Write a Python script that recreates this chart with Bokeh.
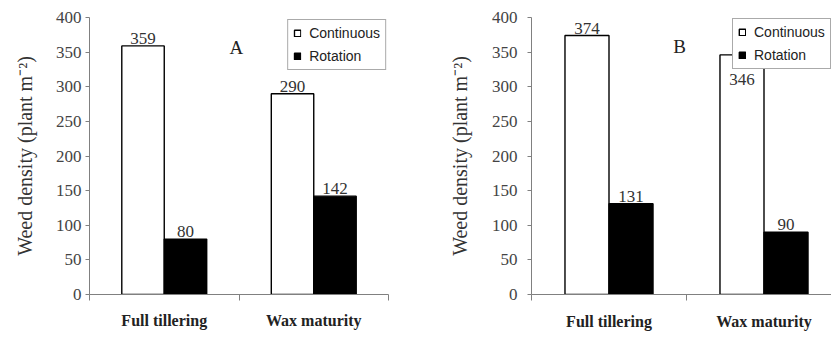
from bokeh.plotting import figure
from bokeh.models import Range1d, FixedTicker, ColumnDataSource, Label
from bokeh.layouts import row
from bokeh.embed import file_html
from bokeh.resources import INLINE
from bokeh.core.properties import value

# ---- data ----
categories = ["Full tillering", "Wax maturity"]
series_names = ["Continuous", "Rotation"]
a_continuous = [359, 290]
a_rotation = [80, 142]
b_continuous = [374, 346]
b_rotation = [131, 90]
y_ticks = [0, 50, 100, 150, 200, 250, 300, 350, 400]
y_label = "Weed density (plant m\u207b\u00b2)"

SERIF = "'Liberation Serif', 'Times New Roman', serif"
SANS = "'Liberation Sans', Arial, sans-serif"
BAR_W = 0.284
HEIGHT = 340


def make_panel(cont, rot, letter, letter_xy, width, mbl, mbr, mbt, mbb,
               x_end, legend_loc, label_yoff, ylab_standoff, tick_standoff,
               cat_standoff):
    p = figure(width=width, height=HEIGHT, output_backend="svg",
               toolbar_location=None, x_range=Range1d(0, x_end),
               y_range=Range1d(0, 400),
               min_border_left=mbl, min_border_right=mbr,
               min_border_top=mbt, min_border_bottom=mbb)
    p.outline_line_color = None
    p.grid.visible = False
    p.background_fill_color = "white"
    p.border_fill_color = "white"

    idx = list(range(len(categories)))
    xc = [i + 0.5 - BAR_W / 2 for i in idx]
    xr = [i + 0.5 + BAR_W / 2 for i in idx]
    src_c = ColumnDataSource(dict(x=xc, top=cont, t=[str(v) for v in cont],
                                  yoff=[label_yoff[0][i] for i in idx]))
    src_r = ColumnDataSource(dict(x=xr, top=rot, t=[str(v) for v in rot],
                                  yoff=[label_yoff[1][i] for i in idx]))
    p.vbar(x="x", top="top", bottom=0, width=BAR_W, source=src_c,
           fill_color="white", line_color="black", line_width=1.4,
           legend_label=series_names[0])
    p.vbar(x="x", top="top", bottom=0, width=BAR_W, source=src_r,
           fill_color="black", line_color="black", line_width=1.4,
           legend_label=series_names[1])

    for s in (src_c, src_r):
        p.text(x="x", y="top", text="t", source=s, text_align="center",
               text_baseline="bottom", y_offset="yoff",
               text_font=value(SERIF), text_font_size="17px",
               text_color="#333333")

    p.add_layout(Label(x=letter_xy[0], y=letter_xy[1], text=letter,
                       text_font=SERIF, text_font_size="19px",
                       text_align="center", text_baseline="middle",
                       text_color="#222222"))

    # y axis
    ya = p.yaxis[0]
    ya.ticker = FixedTicker(ticks=y_ticks)
    ya.axis_label = y_label
    ya.axis_label_text_font = SERIF
    ya.axis_label_text_font_size = "20px"
    ya.axis_label_text_font_style = "normal"
    ya.axis_label_text_color = "#333333"
    ya.axis_label_standoff = ylab_standoff
    ya.major_label_text_font = SERIF
    ya.major_label_text_font_size = "17px"
    ya.major_label_text_color = "#444444"
    ya.major_label_standoff = tick_standoff
    ya.axis_line_color = "#808080"
    ya.major_tick_line_color = "#808080"
    ya.major_tick_out = 4
    ya.major_tick_in = 0
    ya.minor_tick_line_color = None

    # x axis
    xa = p.xaxis[0]
    xa.ticker = FixedTicker(ticks=[i + 0.5 for i in idx],
                            minor_ticks=list(range(len(categories) + 1)))
    xa.major_label_overrides = {i + 0.5: c for i, c in zip(idx, categories)}
    xa.major_label_text_font = SERIF
    xa.major_label_text_font_size = "16px"
    xa.major_label_text_font_style = "bold"
    xa.major_label_text_color = "#222222"
    xa.major_label_standoff = cat_standoff
    xa.major_tick_out = 0
    xa.major_tick_in = 0
    xa.minor_tick_out = 6
    xa.minor_tick_in = 0
    xa.minor_tick_line_color = "#808080"
    xa.axis_line_color = "#808080"

    lg = p.legend[0]
    lg.location = legend_loc
    lg.label_text_font = SANS
    lg.label_text_font_size = "14px"
    lg.label_text_color = "#222222"
    lg.label_height = 14
    lg.glyph_width = 8
    lg.glyph_height = 8
    lg.label_standoff = 8
    lg.spacing = 7
    lg.padding = 5
    lg.margin = 2
    lg.border_line_color = "#555555"
    lg.border_line_width = 1
    lg.background_fill_color = "white"
    lg.background_fill_alpha = 1.0
    return p


pa = make_panel(a_continuous, a_rotation, "A", (0.983, 356),
                width=420, mbl=89, mbr=32, mbt=17, mbb=42,
                x_end=2.0, legend_loc="top_right",
                label_yoff=[[-2, -2], [-2, -2]],
                ylab_standoff=17, tick_standoff=4, cat_standoff=11)
pb = make_panel(b_continuous, b_rotation, "B", (0.955, 358),
                width=411, mbl=111, mbr=0, mbt=16, mbb=46,
                x_end=(831 - 531) / 155.0, legend_loc=(201, 225),
                label_yoff=[[-2, 30], [-2, -2]],
                ylab_standoff=18, tick_standoff=10, cat_standoff=12)

layout = row(pa, pb)
open("out.html", "w").write(file_html(layout, INLINE))
